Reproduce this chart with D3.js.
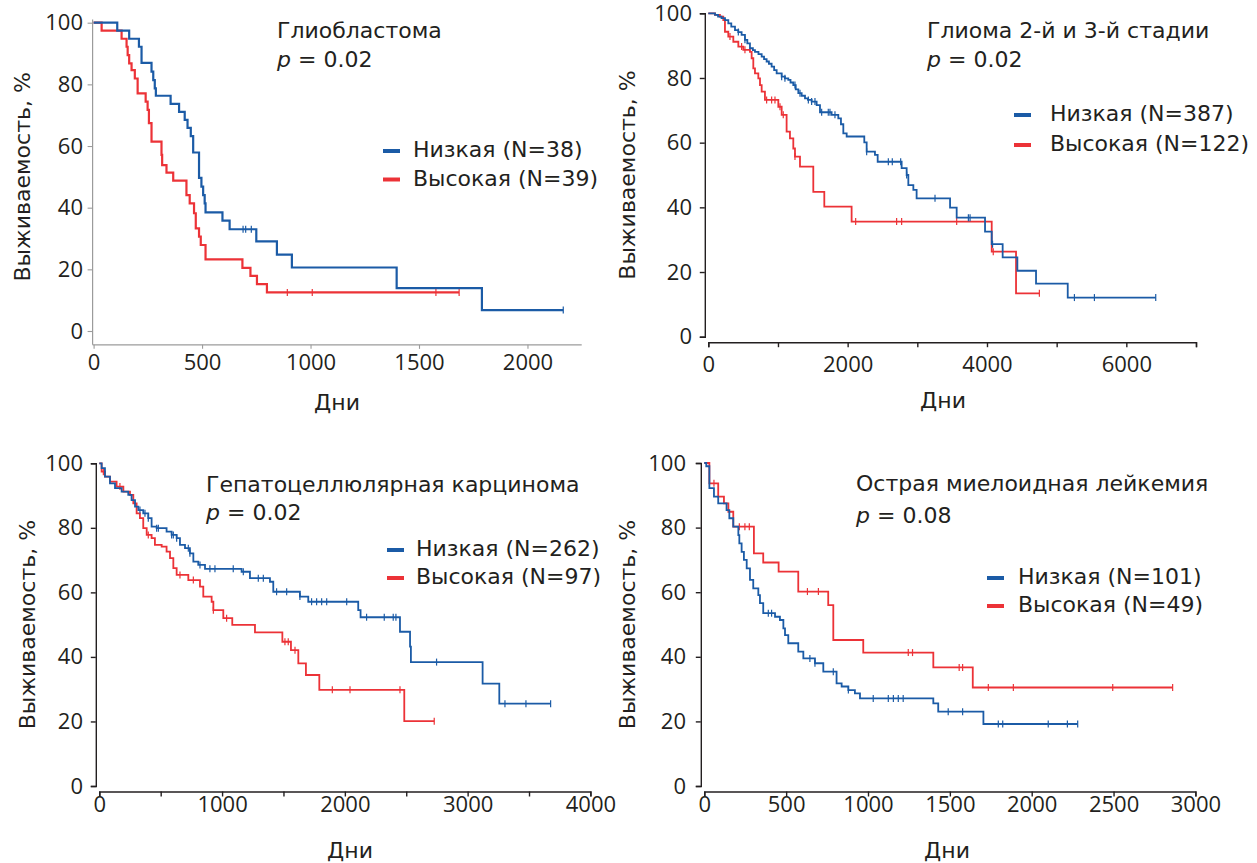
<!DOCTYPE html>
<meta charset="utf-8">
<html>
<head>
<style>
  body { margin: 0; background: #fff; }
  svg text { font-family: "DejaVu Sans", sans-serif; fill: #231f20; }
  .axis text { font-size: 22px; }
  .title { font-size: 22px; }
  .legend { font-size: 22px; }
  .axislabel { font-size: 22px; }
</style>
<script src="https://d3js.org/d3.v7.min.js"></script>
</head>
<body>
<div id="chart"></div>
<script>
// colours of the two groups
var blue = "#1b5ba6", red = "#ec3237";

// ---- Глиобластома ----  [day, survival %]
var gbmLow = [[0,100],[109,97.4],[164,94.8],[209,92.2],[221,87.0],[267,84.1],[275,81.4],[282,78.7],[287,76.3],
  [355,73.7],[394,71.1],[420,68.5],[433,65.9],[448,63.2],[459,57.9],[486,49.7],[497,46.8],[505,44.1],[512,41.4],
  [516,38.5],[594,35.8],[627,33.0],[750,29.1],[845,24.8],[914,20.6],[1397,13.9],[1790,6.8],[2165,6.8]];
var gbmLowCens = [689,701,727,2165];
var gbmHigh = [[0,100],[37,97.4],[129,94.8],[152,92.2],[157,89.5],[164,86.8],[175,84.6],[190,81.9],[203,77.1],
  [240,74.4],[249,71.7],[255,67.4],[267,61.4],[313,57.1],[316,53.8],[336,51.4],[367,48.8],[428,44.1],[443,41.4],
  [463,38.2],[471,33.3],[486,30.6],[494,27.9],[516,23.2],[686,20.5],[723,17.9],[753,15.2],[799,12.5],[1685,12.5]];
var gbmHighCens = [893,1008,1578,1685];

// ---- Глиома 2-й и 3-й стадии ----
var gliLow = [[0,100],[96,99.5],[140,99.0],[190,98.5],[240,97.9],[287,96.9],[330,95.9],[383,94.8],[430,94.2],[478,93.3],
  [526,91.8],[560,90.7],[598,89.2],[640,88.6],[670,88.1],[720,87.4],[766,86.6],[800,85.8],[837,85.1],[870,84.4],
  [909,83.5],[945,82.4],[981,81.4],[1053,80.4],[1100,79.9],[1148,79.4],[1180,78.6],[1220,77.8],[1255,76.5],
  [1292,75.3],[1340,74.5],[1388,73.7],[1430,73.2],[1483,72.7],[1555,71.6],[1603,69.4],[1770,68.6],[1866,67.5],
  [1904,65.7],[1938,62.9],[1986,61.9],[2239,60.1],[2273,57.2],[2392,56.2],[2431,54.1],[2775,52.1],[2847,50.0],
  [2871,46.9],[2943,45.4],[2990,42.8],[3470,39.9],[3565,36.8],[3972,32.5],[4068,28.6],[4225,24.5],[4436,20.4],
  [4704,16.4],[5159,12.1],[6422,12.1]];
var gliLowCens = [431,526,1053,1100,1244,1316,1436,1483,1531,1627,1722,1746,1818,2273,2584,2641,2761,2847,3254,
  3733,3757,4080,5255,5542,6422];
var gliHigh = [[0,100],[96,99.5],[167,99.0],[215,97.9],[239,94.3],[287,92.8],[359,91.2],[431,89.7],[502,88.7],
  [598,88.1],[622,86.1],[646,83.0],[670,81.4],[718,79.9],[742,77.8],[766,75.8],[813,73.2],[1005,71.1],[1053,68.6],
  [1124,63.4],[1172,61.3],[1220,58.2],[1244,55.7],[1316,52.6],[1507,44.8],[1665,40.2],[2057,35.6],[4068,26.3],
  [4417,13.4],[4752,13.4]];
var gliHighCens = [311,478,526,837,909,957,1029,1076,1244,2115,2703,2775,3565,4090,4752];

// ---- Гепатоцеллюлярная карцинома ----
var hccLow = [[0,100],[19,98.5],[46,95.9],[87,93.8],[128,92.3],[182,91.2],[236,90.2],[263,88.6],[291,86.6],[318,85.5],
  [358,84.5],[399,83.0],[426,80.4],[467,79.9],[548,78.8],[589,77.8],[630,76.8],[657,74.7],[698,73.7],[738,72.1],
  [766,69.5],[806,68.5],[861,67.3],[1159,66.4],[1227,64.4],[1390,63.3],[1417,60.2],[1634,58.7],[1702,57.1],
  [2109,54.5],[2128,52.3],[2449,47.8],[2531,43.2],[2538,38.4],[3122,31.7],[3258,25.5],[3676,25.5]];
var hccLowCens = [331,372,399,467,481,589,603,630,725,738,820,901,942,1091,1173,1295,1336,1444,1526,1634,1729,
  1770,1811,1852,2015,2177,2321,2394,2416,2747,3304,3475,3676];
var hccHigh = [[0,100],[19,97.4],[46,95.9],[87,94.3],[141,92.8],[196,91.2],[250,90.2],[277,87.6],[304,84.5],[331,83.0],
  [358,79.9],[386,77.8],[426,76.8],[453,74.7],[508,74.2],[548,72.6],[576,70.6],[603,67.5],[630,65.4],[725,63.8],
  [820,61.8],[847,58.7],[915,57.1],[929,54.5],[1010,52.0],[1083,49.9],[1268,47.6],[1491,44.7],[1561,42.1],
  [1621,38.0],[1683,34.4],[1792,29.8],[2484,20.1],[2728,20.1]];
var hccHighCens = [33,168,399,657,766,929,1037,1512,1539,1594,1898,2042,2449,2728];

// ---- Острая миелоидная лейкемия ----
var amlLow = [[0,100],[12,99.0],[31,92.2],[59,89.6],[85,87.5],[136,85.4],[153,82.9],[177,80.3],[208,77.7],[214,75.1],
  [228,72.5],[242,70.0],[259,67.4],[279,63.8],[299,61.2],[330,59.1],[340,56.6],[360,53.5],[432,52.4],[462,51.4],
  [483,48.8],[493,46.7],[513,44.2],[574,41.6],[605,39.5],[676,38.0],[727,35.4],[808,31.8],[839,30.8],[880,29.7],
  [920,28.7],[951,27.1],[1399,25.6],[1429,23.0],[1705,19.2],[2281,19.2]];
var amlLowCens = [391,411,645,676,788,880,1032,1124,1155,1185,1215,1490,1578,1796,1823,2101,2218,2281];
var amlHigh = [[0,100],[31,93.7],[85,89.6],[120,87.5],[147,84.9],[177,80.3],[303,72.0],[360,69.2],[454,66.4],
  [574,60.2],[757,56.0],[788,45.2],[971,41.3],[1399,36.7],[1640,30.5],[2861,30.5]];
var amlHighCens = [59,214,248,275,630,697,1246,1272,1557,1578,1735,1888,2495,2861];

// text and ticks of the four panels
var titles = ["Глиобластома", "Глиома 2-й и 3-й стадии", "Гепатоцеллюлярная карцинома", "Острая миелоидная лейкемия"];
var pValues = ["0.02", "0.02", "0.02", "0.08"];
var lowLabels = ["Низкая (N=38)", "Низкая (N=387)", "Низкая (N=262)", "Низкая (N=101)"];
var highLabels = ["Высокая (N=39)", "Высокая (N=122)", "Высокая (N=97)", "Высокая (N=49)"];
var xMax = [2250, 7000, 4000, 3000];
var xTicks = [[0,500,1000,1500,2000], [0,1000,2000,3000,4000,5000,6000,7000],
  [0,500,1000,1500,2000,2500,3000,3500,4000], [0,500,1000,1500,2000,2500,3000]];
var xTickLabels = [[0,500,1000,1500,2000], [0,2000,4000,6000], [0,1000,2000,3000,4000], [0,500,1000,1500,2000,2500,3000]];
var yTicks = [0,20,40,60,80,100];

// layout of each panel (pixels)
var layout = [
  {x0: 93.6, x1: 581.7, y0: 331, y1: 22.7, gray: true, xLab: 27, yLab: 83, tx: 277, ty: 38, py: 67,
   lx: 383, ltx: 413, ly: 157, ldy: 28.5, dx: 337, dy: 410, yx: 22},
  {x0: 708.3, x1: 1196, y0: 336.7, y1: 13.3, gray: false, xLab: 30, yLab: 692, tx: 927, ty: 38, py: 67,
   lx: 1014, ltx: 1050, ly: 121, ldy: 30, dx: 943, dy: 408, yx: 627},
  {x0: 99.3, x1: 590.4, y0: 786, y1: 463.3, gray: false, xLab: 21, yLab: 83, tx: 206, ty: 492, py: 520,
   lx: 387, ltx: 416, ly: 556, ldy: 28, dx: 350, dy: 858, yx: 27},
  {x0: 704.3, x1: 1195.4, y0: 786, y1: 463, gray: false, xLab: 21, yLab: 686, tx: 856, ty: 491, py: 523,
   lx: 987, ltx: 1018, ly: 584, ldy: 28, dx: 947, dy: 858, yx: 627}
];
var curves = [[gbmLow, gbmLowCens, gbmHigh, gbmHighCens], [gliLow, gliLowCens, gliHigh, gliHighCens],
  [hccLow, hccLowCens, hccHigh, hccHighCens], [amlLow, amlLowCens, amlHigh, amlHighCens]];

var svg = d3.select("#chart").append("svg").attr("width", 1257).attr("height", 863);

// survival at time t from the step data
function survAt(data, t) {
  var v = data[0][1];
  data.forEach(function(d) { if (d[0] <= t) v = d[1]; });
  return v;
}

function drawPanel(i) {
  var L = layout[i];
  var x = d3.scaleLinear().domain([0, xMax[i]]).range([L.x0, L.x1]);
  var y = d3.scaleLinear().domain([0, 100]).range([L.y0, L.y1]);
  var axisColor = L.gray ? "#9b9b9b" : "#231f20";
  var g = svg.append("g");

  // axes
  var xAxisY = L.gray ? y(-4.5) : y(0) + 5.5;
  var yAxisX = L.gray ? x(0) - 1 : x(0) - 3.5;
  var xa = g.append("g").attr("class", "axis").attr("transform", "translate(0," + xAxisY + ")")
    .call(d3.axisBottom(x).tickValues(xTicks[i]).tickSizeOuter(0).tickSize(L.gray ? 4 : 5)
      .tickPadding(L.xLab - 21)
      .tickFormat(function(d) { return xTickLabels[i].indexOf(d) >= 0 ? d : ""; }));
  var ya = g.append("g").attr("class", "axis").attr("transform", "translate(" + yAxisX + ",0)")
    .call(d3.axisLeft(y).tickValues(yTicks).tickSizeOuter(0).tickSize(5)
      .tickPadding(yAxisX - L.yLab - 5));
  [xa, ya].forEach(function(a) {
    a.select(".domain").attr("stroke", axisColor).attr("stroke-width", L.gray ? 1.2 : 1.4);
    a.selectAll(".tick line").attr("stroke", axisColor).attr("stroke-width", L.gray ? 1.1 : 1.4);
    a.selectAll(".tick text").attr("fill", "#231f20").style("font-family", "'Open Sans', sans-serif");
  });
  xa.selectAll(".tick text").attr("dy", "0.71em");
  if (L.gray) {
    ya.select(".domain").attr("d", "M0," + y(101) + "V" + xAxisY);
    xa.select(".domain").attr("d", "M" + yAxisX + ",0H" + x(xMax[i]));
  }

  // curves
  var line = d3.line().x(function(d) { return x(d[0]); }).y(function(d) { return y(d[1]); }).curve(d3.curveStepAfter);
  var c = curves[i];
  [[c[2], c[3], red], [c[0], c[1], blue]].forEach(function(s) {
    g.append("path").datum(s[0]).attr("d", line).attr("fill", "none")
      .attr("stroke", s[2]).attr("stroke-width", L.gray ? 2.2 : 1.8);
    g.selectAll(null).data(s[1]).enter().append("line")
      .attr("x1", function(t) { return x(t); }).attr("x2", function(t) { return x(t); })
      .attr("y1", function(t) { return y(survAt(s[0], t)) - 3.5; })
      .attr("y2", function(t) { return y(survAt(s[0], t)) + 3.5; })
      .attr("stroke", s[2]).attr("stroke-width", 1.2);
  });

  // title and p value
  g.append("text").attr("class", "title").attr("x", L.tx).attr("y", L.ty).text(titles[i]);
  var pt = g.append("text").attr("class", "title").attr("x", L.tx).attr("y", L.py);
  pt.append("tspan").style("font-style", "italic").text("p");
  pt.append("tspan").text(" = " + pValues[i]);

  // legend
  [[lowLabels[i], blue], [highLabels[i], red]].forEach(function(d, k) {
    var by = L.ly + k * L.ldy;
    g.append("line").attr("x1", L.lx).attr("x2", L.lx + 17).attr("y1", by - 6).attr("y2", by - 6)
      .attr("stroke", d[1]).attr("stroke-width", 4);
    g.append("text").attr("class", "legend").attr("x", L.ltx).attr("y", by).text(d[0]);
  });

  // axis titles
  g.append("text").attr("class", "axislabel").attr("x", L.dx).attr("y", L.dy)
    .attr("text-anchor", "middle").text("Дни");
  g.append("text").attr("class", "axislabel")
    .attr("transform", "translate(" + L.yx + "," + ((L.y0 + L.y1) / 2) + ") rotate(-90)")
    .attr("text-anchor", "middle").attr("dominant-baseline", "central").text("Выживаемость, %");
}

for (var i = 0; i < 4; i++) drawPanel(i);
</script>
</body>
</html>
